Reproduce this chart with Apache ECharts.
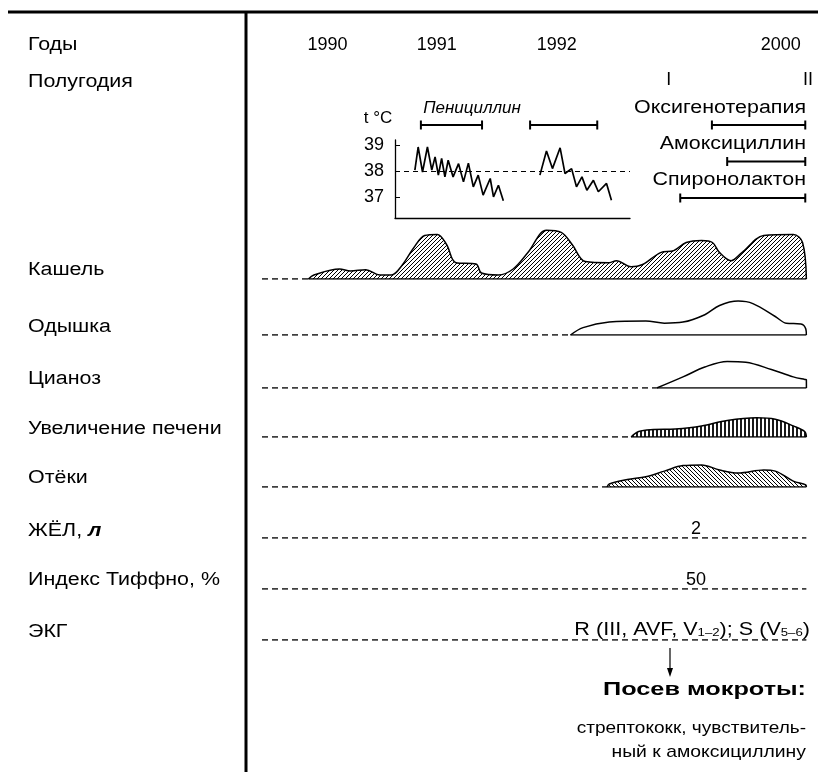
<!DOCTYPE html>
<html><head><meta charset="utf-8">
<script src="https://cdn.jsdelivr.net/npm/echarts@6/dist/echarts.min.js"></script>
<style>html,body{margin:0;padding:0;background:#fff}#c{width:818px;height:772px}</style>
</head><body><div id="c"></div>
<script>
// ================= DATA =================
// time axis: relative time units 0..100 (nonlinear calendar of the case history)
const yearTicks = [12, 32, 54, 95];
const yearLabels = ['1990', '1991', '1992', '2000'];
const halfTicks = [74.5, 100];
const halfLabels = ['I', 'II'];

// therapy courses [start, end]
const penicillinCourses = [[29.1, 40.3], [49.1, 61.4]];
const oxygenCourse = [82.4, 99.5];
const amoxCourse = [85.2, 99.5];
const spiroCourse = [76.6, 99.5];

// temperature, °C
const tempTicks = [37, 38, 39];
const tempNorm = 38;
const temp1 = [[28.0,38.04],[28.6,38.93],[29.4,37.97],[30.3,38.93],[31.1,38.04],[31.7,38.55],[32.3,37.85],[32.9,38.49],[33.5,37.78],[34.1,38.42],[35.0,37.78],[36.0,38.29],[36.9,37.59],[37.8,38.31],[38.7,37.40],[39.6,37.85],[40.5,37.08],[41.8,37.72],[42.4,37.01],[43.3,37.46],[44.2,36.86]];
const temp2 = [[50.9,37.85],[52.1,38.78],[53.2,38.10],[54.6,38.90],[55.5,37.91],[56.7,38.10],[57.6,37.40],[58.6,37.78],[59.5,37.27],[60.7,37.65],[61.6,37.21],[63.1,37.53],[64.0,36.88]];

// symptom intensity (relative units)
const cough = [[8.5,0],[9.5,4],[14.2,10],[16.2,8],[19.0,9.3],[21.6,4],[23.7,4],[25.7,14],[27.7,30.5],[29.8,43.5],[32.1,44.6],[33.8,34.5],[35.5,16.3],[39.2,15],[40.2,6],[43.3,4],[46.0,10],[48.7,26.4],[52.1,48.7],[54.8,46.6],[56.8,34.5],[59.2,17.5],[63.6,16.3],[64.9,18.3],[67.6,12.2],[69.6,14.2],[73.0,26.4],[75.4,28.4],[77.7,36.5],[80.5,38.6],[82.5,36.5],[83.8,26.4],[85.9,18.3],[87.9,26.4],[91.9,43.5],[97.3,44.6],[99.0,36.5],[99.7,0]];
const dyspnea = [[56.5,0],[58.8,7.4],[63.6,12.9],[70.3,14.0],[73.7,11.8],[77.1,12.9],[81.1,20.3],[83.8,29.5],[87.2,33.9],[89.9,31.4],[94.0,18.5],[96.0,11.8],[98.7,11.1],[99.6,6],[99.7,0]];
const cyanosis = [[72.3,0],[77.1,11.1],[81.1,21.0],[85.2,26.6],[88.6,25.8],[93.3,18.5],[97.3,11.1],[99.4,8.5],[99.7,8.3],[99.71,0]];
const liver = [[67.6,0],[69.0,5.5],[71.7,7.4],[75.7,8.1],[80.5,11.1],[85.2,16.6],[90.6,19.2],[94.0,17.7],[97.3,11.1],[99.4,5.5],[99.7,0]];
const edema = [[63.2,0],[63.6,3],[66.9,7.4],[70.3,10.3],[73.7,15.9],[77.1,21.4],[80.5,22.1],[83.8,17.0],[87.2,14.0],[91.9,17.0],[94.0,15.9],[97.3,5.9],[99.6,2.2],[99.7,0]];

const vitalCapacity = 2;      // ЖЁЛ, л
const tiffeneau = 50;         // %
const valuePos = 79.5;        // time of measurement
const timeEnd = 99.7;

const rowLabels = ['Кашель','Одышка','Цианоз','Увеличение печени','Отёки','ЖЁЛ, {i|л}','Индекс Тиффно, %','ЭКГ'];

// ================= LAYOUT =================
const FONT = '"Liberation Sans", Arial, sans-serif';
const FS = 17;
const FL = 18;      // label font size
const SX = 1.19;    // horizontal stretch of the wide original typeface
const L = 262, R = 10;
const rowBase = [279, 335, 388, 437, 487, 538, 589, 640];
const rowLabelY = [270, 327, 379, 429, 478, 531, 580, 632];

function hatch(kind) {
  const c = document.createElement('canvas');
  const s = 4; c.width = s; c.height = s;
  const g = c.getContext('2d');
  g.fillStyle = '#fff'; g.fillRect(0,0,s,s);
  g.strokeStyle = '#000'; g.lineWidth = 1;
  g.beginPath();
  if (kind === 'fwd') {
    g.moveTo(-1, s+1); g.lineTo(s+1, -1);
    g.moveTo(-1, 1); g.lineTo(1, -1);
    g.moveTo(s-1, s+1); g.lineTo(s+1, s-1);
  } else if (kind === 'back') {
    g.moveTo(-1, -1); g.lineTo(s+1, s+1);
    g.moveTo(s-1, -1); g.lineTo(s+1, 1);
    g.moveTo(-1, s-1); g.lineTo(1, s+1);
  } else if (kind === 'vert') {
    g.lineWidth = 1.8;
    g.moveTo(1, 0); g.lineTo(1, s);
  }
  g.stroke();
  return { image: c, repeat: 'repeat' };
}

const grids = [], xAxes = [], yAxes = [], series = [];
function addGrid(g, x, y) {
  grids.push(g);
  const i = grids.length - 1;
  xAxes.push(Object.assign({ gridIndex: i, type: 'value', min: 0, max: 100, show: false }, x || {}));
  yAxes.push(Object.assign({ gridIndex: i, type: 'value', min: 0, max: 50, show: false }, y || {}));
  return i;
}
const noAxis = { axisLine: { show: false }, axisTick: { show: false }, splitLine: { show: false } };

// year labels
const gy = addGrid({ left: L, right: R, top: 44, height: 1 },
  Object.assign({ show: true, axisLabel: { customValues: yearTicks, formatter: v => yearLabels[yearTicks.indexOf(v)], margin: 0, verticalAlign: 'middle', fontFamily: FONT, fontSize: FL, color: '#000' } }, noAxis));
series.push({ type: 'line', xAxisIndex: gy, yAxisIndex: gy, data: [], silent: true });
// half-year labels
const gh = addGrid({ left: L, right: R, top: 79, height: 1 },
  Object.assign({ show: true, axisLabel: { customValues: halfTicks, formatter: v => halfLabels[halfTicks.indexOf(v)], margin: 0, verticalAlign: 'middle', fontFamily: FONT, fontSize: FL, color: '#000' } }, noAxis));
series.push({ type: 'line', xAxisIndex: gh, yAxisIndex: gh, data: [], silent: true });

// therapy courses
const gt = addGrid({ left: L, right: R, top: 106.75, height: 109.5 }, null, { min: -0.5, max: 2.5, inverse: true });
const bracket = (c, lane) => ({
  type: 'line', xAxisIndex: gt, yAxisIndex: gt, data: [[c[0], lane], [c[1], lane]],
  symbol: 'rect', symbolSize: [2, 9], lineStyle: { color: '#000', width: 2 }, itemStyle: { color: '#000' }, silent: true
});
penicillinCourses.forEach(c => series.push(bracket(c, 0)));
series.push(bracket(oxygenCourse, 0));
series.push(bracket(amoxCourse, 1));
series.push(bracket(spiroCourse, 2));

// temperature inset
const gT = addGrid({ left: 395, right: 188, top: 140, height: 78 },
  { show: true, min: 24.36, max: 67.4, axisLine: { show: true, lineStyle: { color: '#000', width: 1.3 } }, axisTick: { show: false }, axisLabel: { show: false }, splitLine: { show: false } },
  { show: true, min: 36.2, max: 39.2, axisLine: { show: true, lineStyle: { color: '#000', width: 1.3 } },
    axisTick: { show: true, inside: true, length: 5, customValues: tempTicks, lineStyle: { color: '#000' } },
    axisLabel: { customValues: tempTicks, fontFamily: FONT, fontSize: FL, color: '#000', margin: 11 }, splitLine: { show: false } });
[temp1, temp2].forEach((d, k) => series.push({
  type: 'line', xAxisIndex: gT, yAxisIndex: gT, data: d, symbol: 'none',
  lineStyle: { color: '#000', width: 1.7 }, silent: true,
  markLine: k === 0 ? { symbol: 'none', silent: true, label: { show: false },
    lineStyle: { color: '#000', type: [5, 4], width: 1 }, data: [{ yAxis: tempNorm }] } : undefined
}));

// symptom rows
const areas = [
  { d: cough, fill: hatch('fwd') },
  { d: dyspnea, fill: '#fff' },
  { d: cyanosis, fill: '#fff' },
  { d: liver, fill: hatch('vert') },
  { d: edema, fill: hatch('back') }
];
rowBase.forEach((b, r) => {
  const gi = addGrid({ left: L, right: R, top: b - 50, height: 50 });
  const dash = { type: 'line', xAxisIndex: gi, yAxisIndex: gi, symbol: 'none', silent: true,
    lineStyle: { color: '#000', width: 1.3, type: [6, 4] } };
  if (r < areas.length) {
    const d = areas[r].d;
    const t0 = d[0][0], t1 = d[d.length - 1][0];
    series.push(Object.assign({}, dash, { data: [[0, 0], [t0, 0]] }));
    series.push({ type: 'line', xAxisIndex: gi, yAxisIndex: gi, data: d, smooth: 0.35, symbol: 'none', silent: true,
      lineStyle: { color: '#000', width: 1.5 }, areaStyle: { color: areas[r].fill, opacity: 1 } });
    series.push({ type: 'line', xAxisIndex: gi, yAxisIndex: gi, data: [[t0, 0], [t1, 0]], symbol: 'none', silent: true,
      lineStyle: { color: '#000', width: 1.6 } });
  } else {
    series.push(Object.assign({}, dash, { data: [[0, 0], [timeEnd, 0]] }));
    if (r === 5 || r === 6) {
      const lab = String(r === 5 ? vitalCapacity : tiffeneau);
      series.push({ type: 'scatter', xAxisIndex: gi, yAxisIndex: gi, data: [[valuePos, 0]], symbolSize: 0, silent: true,
        itemStyle: { opacity: 1, color: '#000' },
        label: { show: true, position: 'top', distance: 0, formatter: lab, fontFamily: FONT, fontSize: FL, color: '#000' } });
    }
  }
});

// ================= GRAPHIC (layout text) =================
const gfx = [];
const txt = (x, y, text, opt, sx) => gfx.push({ type: 'text', x, y, scaleX: sx === undefined ? SX : sx, silent: true,
  style: Object.assign({ text, font: `${FL}px ${FONT}`, fill: '#000', verticalAlign: 'middle', align: 'left' }, opt || {}) });
gfx.push({ type: 'line', silent: true, shape: { x1: 8, y1: 12, x2: 818, y2: 12 }, style: { stroke: '#000', lineWidth: 3 } });
gfx.push({ type: 'line', silent: true, shape: { x1: 246, y1: 12, x2: 246, y2: 772 }, style: { stroke: '#000', lineWidth: 3 } });
txt(28, 45, 'Годы');
txt(28, 82, 'Полугодия');
rowLabels.forEach((s, i) => txt(28, rowLabelY[i], s,
  { rich: { i: { font: `italic bold ${FL}px ${FONT}`, fill: '#000' } } }));
txt(472, 108, 'Пенициллин', { align: 'center', font: `italic ${FS}px ${FONT}` }, 1.0);
txt(378, 118, 't °C', { align: 'center', font: `${FS}px ${FONT}` }, 1);
txt(806, 108, 'Оксигенотерапия', { align: 'right' });
txt(806, 144, 'Амоксициллин', { align: 'right' });
txt(806, 180, 'Спиронолактон', { align: 'right' });
// ECG finding
txt(810, 630, 'R (III, AVF, V{s|1–2}); S (V{s|5–6})', { align: 'right', font: `${FL}px ${FONT}`,
  rich: { s: { font: `11px ${FONT}`, fill: '#000', padding: [5, 0, 0, 0] } } }, 1.2);
gfx.push({ type: 'line', silent: true, shape: { x1: 670, y1: 648, x2: 670, y2: 672 }, style: { stroke: '#000', lineWidth: 1.2 } });
gfx.push({ type: 'polygon', silent: true, shape: { points: [[667, 668], [673, 668], [670, 677]] }, style: { fill: '#000' } });
txt(806, 690, 'Посев мокроты:', { align: 'right', font: `bold 19px ${FONT}` }, 1.33);
txt(806, 728, 'стрептококк, чувствитель-', { align: 'right', font: `${FS}px ${FONT}` }, 1.12);
txt(806, 752, 'ный к амоксициллину', { align: 'right', font: `${FS}px ${FONT}` }, 1.14);

const chart = echarts.init(document.getElementById('c'), null, { renderer: 'canvas' });
chart.setOption({
  animation: false,
  backgroundColor: '#fff',
  grid: grids, xAxis: xAxes, yAxis: yAxes, series, graphic: gfx
});
</script></body></html>
